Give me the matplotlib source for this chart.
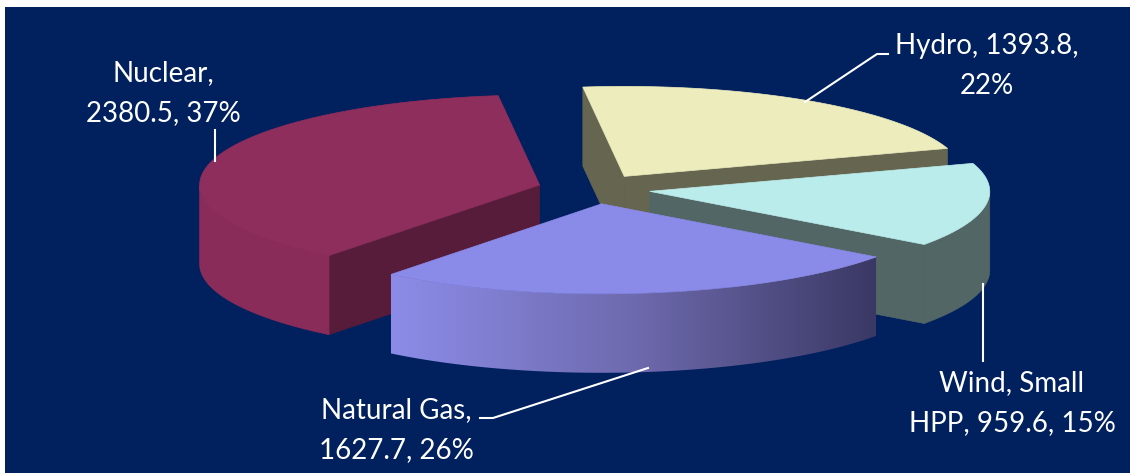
import numpy as np
import matplotlib
matplotlib.use('Agg')
import matplotlib.pyplot as plt
from matplotlib.patches import Polygon, Rectangle
from matplotlib.colors import LinearSegmentedColormap

# generation by source (order = clockwise from the top of the pie)
names = ['Hydro', 'Wind, Small HPP', 'Natural Gas', 'Nuclear']
values = [1393.8, 959.6, 1627.7, 2380.5]
label_fmt = ['Hydro, {v},\n{p}%', 'Wind, Small\nHPP, {v}, {p}%',
             'Natural Gas,\n{v}, {p}%', 'Nuclear,\n{v}, {p}%']
top_colors = ['#ececbc', '#bbecec', '#8a8ae8', '#8e2e5c']
wall_colors = ['#666650', '#526666', None, '#8a2c59']
cut_colors = ['#666650', '#526666', '#3c3a66', '#561c3a']

# pie geometry in pixels (y grows downward)
W, H = 1130, 477
cx, cy = 594, 190
rx, ry = 340, 90
depth = 79
explode = 0.166
start = 97.0

fig = plt.figure(figsize=(W / 100, H / 100), dpi=100)
ax = fig.add_axes([0, 0, 1, 1])
ax.set_xlim(0, W)
ax.set_ylim(H, 0)
ax.axis('off')
fig.patch.set_facecolor('white')
ax.add_patch(Rectangle((5, 8), W - 5, 466, facecolor='#00205e', edgecolor='none', zorder=0))

vals = np.array(values)
pcts = np.round(100 * vals / vals.sum()).astype(int)
sweeps = 360 * vals / vals.sum()


def rim(c, th, dy=0.0):
    t = np.radians(th)
    return np.column_stack([c[0] + rx * np.cos(t), c[1] - ry * np.sin(t) + dy])


slices = []
b = start
for i, sw in enumerate(sweeps):
    a = b - sw
    m = np.radians((a + b) / 2)
    c = (cx + explode * rx * np.cos(m), cy - explode * ry * np.sin(m))
    slices.append((i, a, b, c))
    b = a

gas_cmap = LinearSegmentedColormap.from_list('gas', ['#8c8ce8', '#6e6aae', '#3a3864'])

# back to front: hydro, nuclear, wind, gas
for order, idx in enumerate([0, 3, 1, 2]):
    i, a, b, c = slices[idx]
    z = 2 + order * 3
    apex = np.array(c)

    # radial cut faces
    for edge, vis in ((b, np.cos(np.radians(b)) < 0), (a, np.cos(np.radians(a)) > 0)):
        if vis:
            p = rim(c, np.array([edge]))[0]
            face = [apex, p, p + [0, depth], apex + [0, depth]]
            ax.add_patch(Polygon(face, closed=True, facecolor=cut_colors[i],
                                 edgecolor=cut_colors[i], lw=0.5, zorder=z))

    # outer wall (front half only)
    th = np.linspace(a, b, 300)
    th = th[np.sin(np.radians(th)) <= 0]
    if len(th) > 1:
        top_edge = rim(c, th)
        bot_edge = rim(c, th[::-1], depth)
        wall = Polygon(np.vstack([top_edge, bot_edge]), closed=True, zorder=z + 1)
        if wall_colors[i] is None:
            wall.set_facecolor('none')
            wall.set_edgecolor('none')
            ax.add_patch(wall)
            x0, x1 = top_edge[:, 0].min(), top_edge[:, 0].max()
            y0, y1 = top_edge[:, 1].min(), bot_edge[:, 1].max()
            grad = np.linspace(0, 1, 256).reshape(1, -1)
            im = ax.imshow(grad, cmap=gas_cmap, aspect='auto',
                           extent=[x0, x1, y1, y0], zorder=z + 1)
            im.set_clip_path(wall)
        else:
            wall.set_facecolor(wall_colors[i])
            wall.set_edgecolor(wall_colors[i])
            wall.set_linewidth(0.5)
            ax.add_patch(wall)

    # top face
    arc = rim(c, np.linspace(a, b, 300))
    ax.add_patch(Polygon(np.vstack([apex, arc]), closed=True, facecolor=top_colors[i],
                         edgecolor=top_colors[i], lw=0.5, zorder=z + 2))

ax.set_xlim(0, W)
ax.set_ylim(H, 0)

# data labels with leader lines
txt = dict(color='white', fontsize=20, family=['Lato', 'DejaVu Sans'],
           ha='center', va='center', linespacing=1.7, zorder=30)
label_pos = [(987, 66), (1012, 403), (396, 430), (163, 93)]
leaders = [
    [(888, 55), (877, 55), (805, 103)],
    [(983, 285), (983, 362)],
    [(480, 419), (493, 419), (648, 369)],
    [(215, 131), (215, 162)],
]
for i in range(len(names)):
    ax.text(*label_pos[i], label_fmt[i].format(v=values[i], p=pcts[i]), **txt)
    xs, ys = zip(*leaders[i])
    ax.plot(xs, ys, color='white', lw=1.5, zorder=29)

fig.savefig('out.png', dpi=100, facecolor=fig.get_facecolor())
